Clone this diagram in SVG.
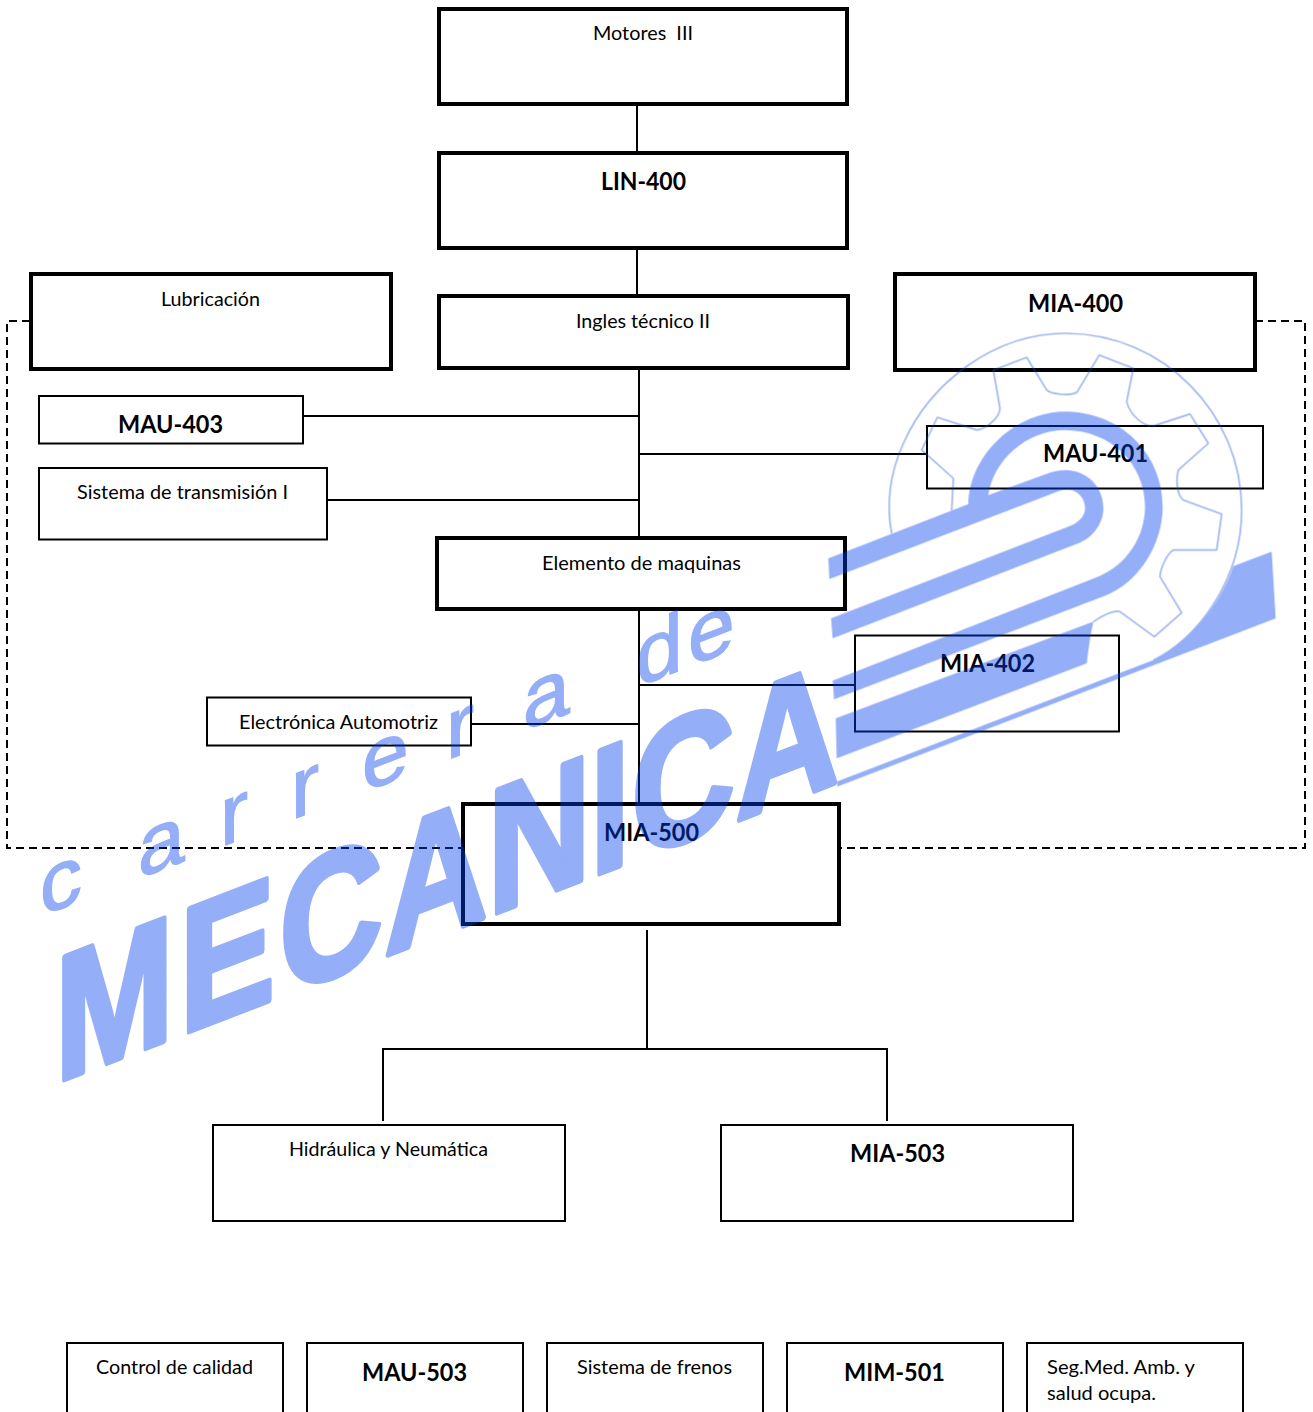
<svg xmlns="http://www.w3.org/2000/svg" width="1313" height="1412" viewBox="0 0 1313 1412">
<style>
.k{fill:none;stroke:#000;stroke-width:4}
.t{fill:none;stroke:#000;stroke-width:2}
.c{fill:none;stroke:#000;stroke-width:2}
.d{fill:none;stroke:#000;stroke-width:2;stroke-dasharray:8 5}
text{font-family:Lato,"Liberation Sans",sans-serif;fill:#000}
.r{font-size:19px}
.b{font-size:24px;font-weight:700}
.wm{fill:#023eec}
.ol{fill:none;stroke:#1f50d8;stroke-width:5;stroke-linejoin:round}
</style>
<rect width="1313" height="1412" fill="#fff"/>
<g id="connectors">
<path class="c" d="M637 106V153M637 248V296M639 370V538M304 416H639M328 500H639M640 454H927M639 610V803M640 685H855M472 724H639M647 930V1049M383 1121V1049H887V1121"/>
<path class="d" d="M30 321H7V848H463M1255 321H1305V848H840"/>
</g>
<g id="n-motores"><rect class="k" x="439" y="9" width="408" height="95"/><text class="r" x="593" y="40" textLength="100" lengthAdjust="spacingAndGlyphs" xml:space="preserve">Motores  III</text></g>
<g id="n-lin400"><rect class="k" x="439" y="153" width="408" height="95"/><text class="b" x="601" y="190" textLength="85" lengthAdjust="spacingAndGlyphs">LIN-400</text></g>
<g id="n-lubricacion"><rect class="k" x="31" y="274" width="360" height="95"/><text class="r" x="161" y="306" textLength="99" lengthAdjust="spacingAndGlyphs">Lubricación</text></g>
<g id="n-ingles"><rect class="k" x="439" y="296" width="409" height="72"/><text class="r" x="576" y="328" textLength="134" lengthAdjust="spacingAndGlyphs">Ingles técnico II</text></g>
<g id="n-mia400"><rect class="k" x="895" y="274" width="360" height="96"/><text class="b" x="1028" y="312" textLength="95" lengthAdjust="spacingAndGlyphs">MIA-400</text></g>
<g id="n-mau403"><rect class="t" x="39" y="396" width="264" height="47.500"/><text class="b" x="118" y="433" textLength="105" lengthAdjust="spacingAndGlyphs">MAU-403</text></g>
<g id="n-sistema"><rect class="t" x="39" y="468" width="288" height="71.500"/><text class="r" x="77" y="499" textLength="211" lengthAdjust="spacingAndGlyphs">Sistema de transmisión I</text></g>
<g id="n-mau401"><rect class="t" x="927" y="426" width="336" height="62.500"/><text class="b" x="1043" y="462" textLength="105" lengthAdjust="spacingAndGlyphs">MAU-401</text></g>
<g id="n-elemento"><rect class="k" x="437" y="538" width="408" height="71"/><text class="r" x="542" y="570" textLength="199" lengthAdjust="spacingAndGlyphs">Elemento de maquinas</text></g>
<g id="n-mia402"><rect class="t" x="855" y="635.500" width="264" height="96"/><text class="b" x="940" y="672" textLength="95" lengthAdjust="spacingAndGlyphs">MIA-402</text></g>
<g id="n-electronica"><rect class="t" x="207" y="697.500" width="264" height="48"/><text class="r" x="239" y="729" textLength="199" lengthAdjust="spacingAndGlyphs">Electrónica Automotriz</text></g>
<g id="n-mia500"><rect class="k" x="463" y="804" width="376" height="120"/><text class="b" x="604" y="841" textLength="95" lengthAdjust="spacingAndGlyphs">MIA-500</text></g>
<g id="n-hidraulica"><rect class="t" x="213" y="1125" width="352" height="96"/><text class="r" x="289" y="1156" textLength="199" lengthAdjust="spacingAndGlyphs">Hidráulica y Neumática</text></g>
<g id="n-mia503"><rect class="t" x="721" y="1125" width="352" height="96"/><text class="b" x="850" y="1162" textLength="95" lengthAdjust="spacingAndGlyphs">MIA-503</text></g>
<g id="n-control"><rect class="t" x="67" y="1343" width="216" height="100"/><text class="r" x="96" y="1374" textLength="157" lengthAdjust="spacingAndGlyphs">Control de calidad</text></g>
<g id="n-mau503"><rect class="t" x="307" y="1343" width="216" height="100"/><text class="b" x="362" y="1381" textLength="105" lengthAdjust="spacingAndGlyphs">MAU-503</text></g>
<g id="n-frenos"><rect class="t" x="547" y="1343" width="216" height="100"/><text class="r" x="577" y="1374" textLength="155" lengthAdjust="spacingAndGlyphs">Sistema de frenos</text></g>
<g id="n-mim501"><rect class="t" x="787" y="1343" width="216" height="100"/><text class="b" x="844" y="1381" textLength="101" lengthAdjust="spacingAndGlyphs">MIM-501</text></g>
<g id="n-seg"><rect class="t" x="1027" y="1343" width="216" height="100"/><text class="r" x="1047" y="1374" textLength="148" lengthAdjust="spacingAndGlyphs">Seg.Med. Amb. y</text><text class="r" x="1047" y="1400" textLength="109" lengthAdjust="spacingAndGlyphs">salud ocupa.</text></g>
<g id="watermark" opacity="0.42">
<g transform="translate(820 320) scale(.33333)">
<path class="ol" d="M215 640C200 560 205 470 250 370C330 190 520 40 737 40C1030 40 1265 280 1265 570C1265 780 1130 960 1000 1020"/>
<path class="ol" d="M395 572L400 475L305 390L352 292L470 330C500 328 540 290 540 265L520 150L620 112L680 210C695 225 760 228 772 215L838 105L940 145L920 245C930 285 970 320 1000 318L1110 282L1165 370L1075 450C1065 490 1075 530 1090 540L1205 582L1190 690L1060 690C1040 700 1020 750 1020 770L1085 878L1003 950L900 875C880 868 850 885 820 905"/>
<path class="wm" d="M25 715L445 552C450 400 590 275 735 275C900 275 1028 400 1028 560C1028 680 950 790 860 825L42 1138L38 1082L835 770C920 735 975 650 975 560C975 430 870 330 735 330C620 330 520 420 505 525L690 458C770 430 850 480 850 565C850 610 820 650 780 668L38 955L33 895L745 620C775 608 795 590 795 565C795 525 760 500 720 512L28 777Z"/>
<path class="wm" d="M47 1195L820 905C810 950 805 990 800 1030L50 1315Z"/>
<path class="wm" d="M1240 738L1355 695L1367 895L52 1400L50 1385L1000 1020C1100 970 1200 860 1240 738Z"/>
</g>
<text transform="matrix(.8 -.308 0 1 55 1083)" font-size="178" font-weight="700" x="0 156 281 412 541 669 721 851" style="fill:#023eec;stroke:#023eec;stroke-width:6;stroke-linejoin:round;font-family:'Liberation Sans',sans-serif">MECANICA</text>
<text transform="matrix(1 -.385 0 1 0 932)" font-size="84" x="40 138 220 291 362 446 523 600 636 688" style="fill:#023eec;stroke:#023eec;stroke-width:1.500;font-family:'Liberation Sans',sans-serif" xml:space="preserve">carrera de</text>
</g>
</svg>
